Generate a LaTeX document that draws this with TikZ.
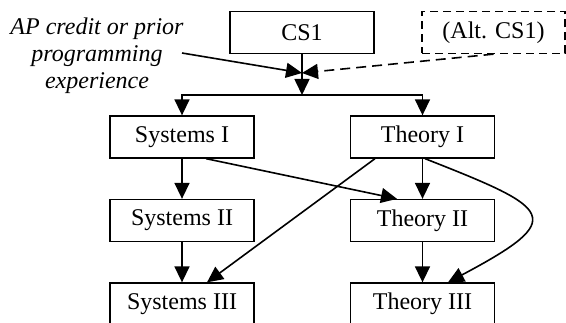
\documentclass[tikz,border=0pt]{standalone}
\usepackage{fontspec}
\setmainfont{Liberation Serif}
\usetikzlibrary{arrows.meta}
\begin{document}
\begin{tikzpicture}[x=1pt,y=-1pt,
  box/.style={draw, line width=1.3pt, minimum width=144pt, minimum height=42pt, inner sep=0pt, font=\fontsize{24}{27}\selectfont},
  arr/.style={line width=1.6pt, -{Triangle[length=16pt,width=15pt]}},
  lbl/.style={align=center, inner sep=0pt, font=\fontsize{24}{27}\selectfont\itshape},
]
\useasboundingbox (0,0) rectangle (566,323);
\node[box] (cs1) at (302,32.5) {CS1};
\node[box, dash pattern=on 8pt off 5pt, minimum width=143pt] (alt) at (493.5,32.5) {(Alt. CS1)};
\node[lbl] (ap) at (97,56) {AP credit or prior\\programming\\experience};
\node[box] (sys1) at (182,137) {Systems I};
\node[box] (th1) at (422.5,137) {Theory I};
\node[box] (sys2) at (182,220.5) {Systems II};
\node[box] (th2) at (422.5,220.5) {Theory II};
\node[box] (sys3) at (182,304) {Systems III};
\node[box] (th3) at (422.5,304) {Theory III};
\coordinate (meet) at (302,73);
\coordinate (bus) at (302,95);
\coordinate (apstart) at (182,53);
\draw[arr] (apstart) -- (meet);
\draw[arr, dash pattern=on 10pt off 6pt] (alt.south) -- (meet);
\draw[arr] (cs1.south) -- (bus);
\draw[arr] (bus) -| (sys1.north);
\draw[arr] (bus) -| (th1.north);
\draw[arr] (sys1) -- (sys2);
\draw[arr] (sys2) -- (sys3);
\draw[arr] (th1) -- (th2);
\draw[arr] (th2) -- (th3);
\draw[arr] (sys1.south -| 206,0) -- (th2.north -| 397,0);
\draw[arr] (th1.south -| 375,0) -- (sys3.north -| 207,0);
\draw[arr] (th1.south -| 425,0) .. controls (553,209) and (569,218) .. (th3.north -| 448,0);
\end{tikzpicture}
\end{document}
